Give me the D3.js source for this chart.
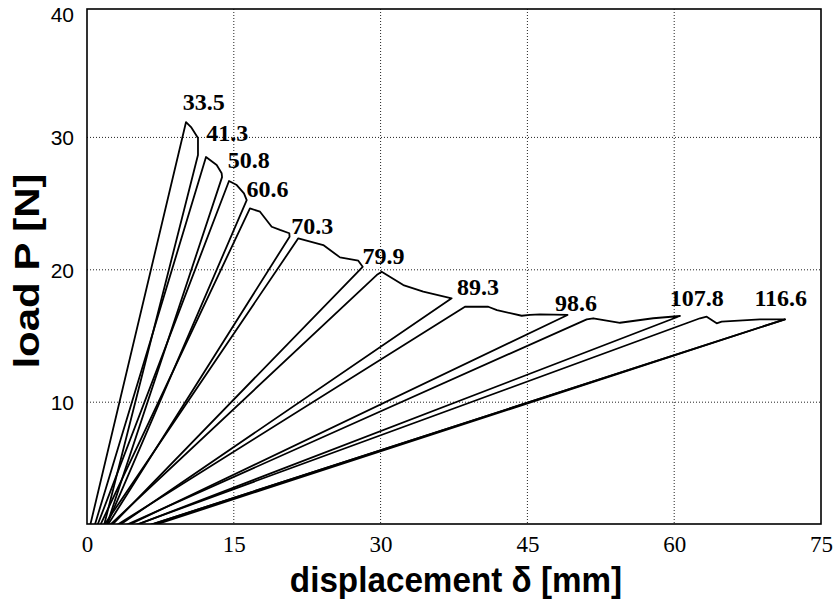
<!DOCTYPE html>
<html>
<head>
<meta charset="utf-8">
<script src="https://cdn.jsdelivr.net/npm/d3@7"></script>
<style>
  body { margin: 0; background: #fff; }
</style>
</head>
<body>
<div id="chart"></div>
<script>
// tick values
var xTicks = [0, 15, 30, 45, 60, 75];
var yTicks = [10, 20, 30, 40];

// one load-displacement loop per crack length [mm]: [displacement, load]
var c335  = [[0.1, 0], [10.12, 31.16], [10.63, 30.78], [11.34, 29.95], [11.34, 28.67], [1.5, 0]];
var c413  = [[0.5, 0], [12.16, 28.52], [13.25, 27.91], [13.76, 27.29], [13.8, 27.0], [1.7, 0]];
var c508  = [[0.7, 0], [14.51, 26.71], [15.3, 26.40], [16.04, 25.78], [16.32, 25.27], [1.6, 0]];
var c606  = [[0.9, 0], [16.65, 24.64], [17.68, 24.39], [18.87, 23.25], [19.72, 23.01], [20.67, 22.76], [20.7, 22.5], [1.5, 0]];
var c703  = [[1.1, 0], [21.59, 22.38], [24.14, 21.87], [25.85, 20.94], [27.72, 20.69], [28.17, 20.23], [1.6, 0]];
var c799  = [[1.3, 0], [29.6, 19.6], [30.11, 19.86], [32.32, 18.85], [34.36, 18.35], [37.26, 17.85], [1.9, 0]];
var c893  = [[1.5, 0], [38.62, 17.21], [41.0, 17.21], [41.89, 16.96], [44.42, 16.53], [45.26, 16.59], [46.29, 16.64], [49.1, 16.59], [2.2, 0]];
var c986  = [[1.8, 0], [51.06, 16.26], [51.73, 16.34], [54.46, 16.0], [57.86, 16.34], [60.59, 16.51], [2.5, 0]];
var c1078 = [[2.3, 0], [62.64, 16.34], [63.32, 16.46], [64.34, 15.96], [64.85, 16.08], [68.76, 16.26], [71.32, 16.26], [3.4, 0]];
var c1166 = [[3.4, 0], [71.32, 16.26], [3.9, 0]];

var curves = [c335, c413, c508, c606, c703, c799, c893, c986, c1078, c1166];
var crackLabels = ["33.5", "41.3", "50.8", "60.6", "70.3", "79.9", "89.3", "98.6", "107.8", "116.6"];
// where each label sits (displacement, load)
var labelX = [9.78, 12.19, 14.39, 16.29, 20.88, 28.14, 37.81, 47.83, 59.54, 68.2];
var labelY = [32.1, 29.7, 27.7, 25.5, 22.7, 20.45, 18.1, 16.9, 17.3, 17.3];

var width = 833, height = 600;
var plotLeft = 87, plotRight = 821, plotTop = 9, plotBottom = 524;

var svg = d3.select("#chart")
  .append("svg")
    .attr("width", width)
    .attr("height", height)
    .style("font-family", "'Liberation Serif', 'Times New Roman', serif");

svg.append("rect").attr("width", width).attr("height", height).attr("fill", "#fff");

var x = d3.scaleLinear().domain([0, 75]).range([plotLeft, plotRight]);
var y = d3.scaleLinear().domain([0.8, 39.7]).range([plotBottom, plotTop]);

// dotted grid
svg.append("g")
  .selectAll("line")
  .data(xTicks.slice(1, -1))
  .enter().append("line")
    .attr("x1", function(d) { return x(d); })
    .attr("x2", function(d) { return x(d); })
    .attr("y1", plotTop)
    .attr("y2", plotBottom)
    .attr("stroke", "#222")
    .attr("stroke-width", 1)
    .attr("stroke-dasharray", "1,2");

svg.append("g")
  .selectAll("line")
  .data(yTicks.slice(0, -1))
  .enter().append("line")
    .attr("x1", plotLeft)
    .attr("x2", plotRight)
    .attr("y1", function(d) { return y(d); })
    .attr("y2", function(d) { return y(d); })
    .attr("stroke", "#222")
    .attr("stroke-width", 1)
    .attr("stroke-dasharray", "1,2");

// curves
svg.append("clipPath").attr("id", "plotclip")
  .append("rect")
    .attr("x", plotLeft).attr("y", plotTop)
    .attr("width", plotRight - plotLeft).attr("height", plotBottom - plotTop);

var line = d3.line()
  .x(function(d) { return x(d[0]); })
  .y(function(d) { return y(d[1]); });

svg.append("g")
  .attr("clip-path", "url(#plotclip)")
  .selectAll("path")
  .data(curves)
  .enter().append("path")
    .attr("d", line)
    .attr("fill", "none")
    .attr("stroke", "#000")
    .attr("stroke-width", 1.8)
    .attr("stroke-linejoin", "round");

// frame
svg.append("rect")
  .attr("x", plotLeft).attr("y", plotTop)
  .attr("width", plotRight - plotLeft).attr("height", plotBottom - plotTop)
  .attr("fill", "none")
  .attr("stroke", "#000")
  .attr("stroke-width", 1.6);

// x axis labels
var xAxis = d3.axisBottom(x).tickValues(xTicks).tickSize(0).tickPadding(12);
svg.append("g")
  .attr("transform", "translate(0," + plotBottom + ")")
  .call(xAxis)
  .call(function(g) { g.select(".domain").remove(); })
  .selectAll("text")
    .attr("font-family", "'Liberation Serif', 'Times New Roman', serif")
    .attr("font-size", 23)
    .attr("fill", "#000");

// y axis labels (clamped so 40 sits at the top edge)
var yLab = y.copy().clamp(true);
var yAxis = d3.axisLeft(yLab).tickValues(yTicks).tickSize(0).tickPadding(13);
svg.append("g")
  .attr("transform", "translate(" + plotLeft + ",0)")
  .call(yAxis)
  .call(function(g) { g.select(".domain").remove(); })
  .selectAll("text")
    .attr("font-family", "'Liberation Sans', Arial, sans-serif")
    .attr("font-size", 21)
    .attr("fill", "#000")
    .attr("dy", function(d) { return d === 40 ? "0.6em" : "0.35em"; });

// crack length labels
svg.append("g")
  .selectAll("text")
  .data(crackLabels)
  .enter().append("text")
    .attr("x", function(d, i) { return x(labelX[i]); })
    .attr("y", function(d, i) { return y(labelY[i]); })
    .attr("font-weight", "bold")
    .attr("font-size", 24)
    .text(function(d) { return d; });

// axis titles (narrowed a little like the original lettering)
svg.append("text")
  .attr("transform", "translate(456,592) scale(0.95,1)")
  .attr("text-anchor", "middle")
  .attr("font-family", "'Liberation Sans', Arial, sans-serif")
  .attr("font-weight", "bold")
  .attr("font-size", 35)
  .text("displacement \u03b4 [mm]");

svg.append("text")
  .attr("transform", "translate(39,271) scale(0.85,1) rotate(-90)")
  .attr("text-anchor", "middle")
  .attr("font-family", "'Liberation Sans', Arial, sans-serif")
  .attr("font-weight", "bold")
  .attr("font-size", 42)
  .text("load P [N]");
</script>
</body>
</html>
